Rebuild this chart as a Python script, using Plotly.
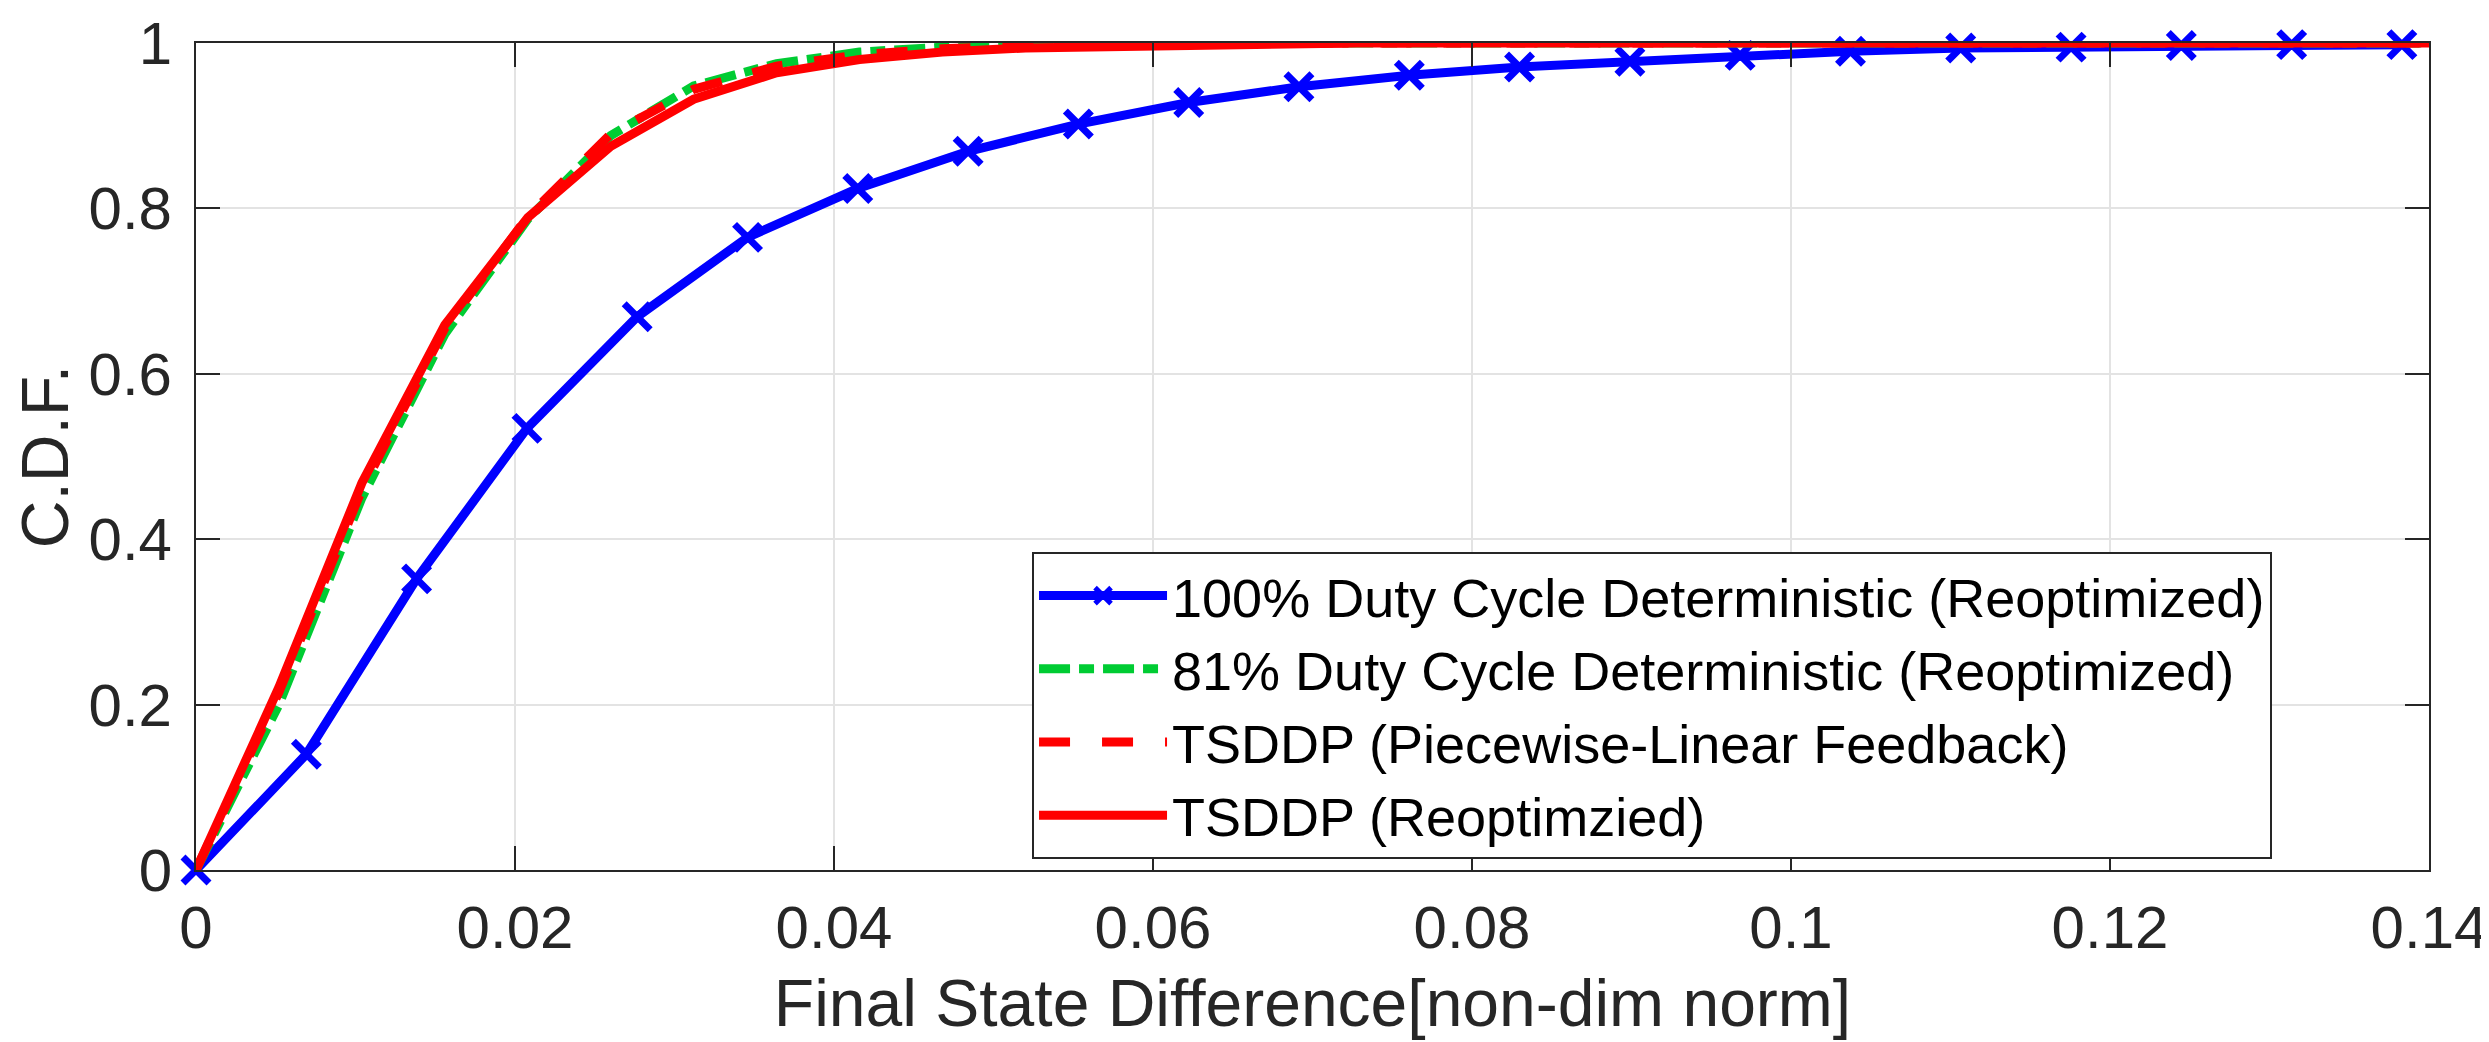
import plotly.graph_objects as go

# ---------------- data ----------------
x_blue = [0, 0.00692, 0.01383, 0.02075, 0.02766, 0.03458, 0.04149, 0.04841, 0.05532,
          0.06224, 0.06915, 0.07607, 0.08298, 0.0899, 0.09681, 0.10373, 0.11064,
          0.11756, 0.12447, 0.13139, 0.1383]
y_blue = [0, 0.14, 0.352, 0.534, 0.669, 0.765, 0.824, 0.869, 0.902, 0.928, 0.947,
          0.961, 0.971, 0.978, 0.985, 0.990, 0.994, 0.995, 0.997, 0.998, 0.998]

x_tsddp = [0, 0.0052, 0.0104, 0.0156, 0.0208, 0.026, 0.0312, 0.0364, 0.0416, 0.0468,
           0.052, 0.0572, 0.0624, 0.0676, 0.0728, 0.08, 0.09, 0.1, 0.11, 0.12, 0.13, 0.14]
y_green = [0, 0.200, 0.450, 0.648, 0.787, 0.888, 0.948, 0.975, 0.989, 0.995,
           0.998, 0.999, 1.0, 1.0, 1.0, 1.0, 1.0, 1.0, 1.0, 1.0, 1.0, 1.0]
y_red_dash = [0, 0.215, 0.460, 0.655, 0.790, 0.890, 0.944, 0.972, 0.986, 0.993,
              0.997, 0.999, 1.0, 1.0, 1.0, 1.0, 1.0, 1.0, 1.0, 1.0, 1.0, 1.0]
y_red = [0, 0.221, 0.468, 0.659, 0.789, 0.875, 0.932, 0.964, 0.980, 0.989,
         0.994, 0.996, 0.998, 0.999, 1.0, 1.0, 1.0, 1.0, 1.0, 1.0, 1.0, 1.0]

names = ["100% Duty Cycle Deterministic (Reoptimized)",
         "81% Duty Cycle Deterministic (Reoptimized)",
         "TSDDP (Piecewise-Linear Feedback)",
         "TSDDP (Reoptimzied)"]

x_ticks = [0, 0.02, 0.04, 0.06, 0.08, 0.1, 0.12, 0.14]
x_ticklabels = ["0", "0.02", "0.04", "0.06", "0.08", "0.1", "0.12", "0.14"]
y_ticks = [0, 0.2, 0.4, 0.6, 0.8, 1]
y_ticklabels = ["0", "0.2", "0.4", "0.6", "0.8", "1"]

FONT = "Liberation Sans, Arial, Helvetica, sans-serif"
AX = "#262626"

fig = go.Figure()
fig.add_trace(go.Scatter(
    x=x_blue, y=y_blue, name=names[0], mode="lines+markers",
    line=dict(color="#0000FF", width=9),
    marker=dict(symbol="x-thin", size=26, color="#0000FF",
                line=dict(color="#0000FF", width=7)),
    cliponaxis=False))
fig.add_trace(go.Scatter(
    x=x_tsddp, y=y_green, name=names[1], mode="lines",
    line=dict(color="#00CC33", width=9, dash="31px,9px,15px,9px"),
    cliponaxis=False))
fig.add_trace(go.Scatter(
    x=x_tsddp, y=y_red_dash, name=names[2], mode="lines",
    line=dict(color="#FF0000", width=9, dash="31px,32px"),
    cliponaxis=False))
fig.add_trace(go.Scatter(
    x=x_tsddp, y=y_red, name=names[3], mode="lines",
    line=dict(color="#FF0000", width=9),
    cliponaxis=False))

fig.update_layout(
    width=2489, height=1042,
    margin=dict(l=188, r=68, t=35, b=180, autoexpand=False),
    paper_bgcolor="white", plot_bgcolor="white",
    font=dict(family=FONT, color=AX, size=60),
    showlegend=True,
    legend=dict(
        x=0.3744, y=0.3845, xanchor="left", yanchor="top",
        bgcolor="white", bordercolor=AX, borderwidth=2,
        font=dict(family=FONT, size=54, color="black"),
        itemwidth=128, tracegroupgap=0,
    ),
)
fig.update_xaxes(
    range=[0, 0.14], tickvals=x_ticks, ticktext=x_ticklabels, automargin=False,
    showline=True, linecolor=AX, linewidth=2, mirror="ticks",
    ticks="inside", ticklen=24, tickwidth=2, tickcolor=AX,
    showgrid=True, gridcolor="#E3E3E3", gridwidth=2, zeroline=False,
    tickfont=dict(size=60, family=FONT, color=AX),
    ticklabelstandoff=4, ticklabeloverflow="allow",
    title=dict(text="Final State Difference[non-dim norm]",
               font=dict(size=66, family=FONT, color=AX), standoff=20),
)
fig.update_yaxes(
    range=[0, 1], tickvals=y_ticks, ticktext=y_ticklabels, automargin=False,
    showline=True, linecolor=AX, linewidth=2, mirror="ticks",
    ticks="inside", ticklen=24, tickwidth=2, tickcolor=AX,
    showgrid=True, gridcolor="#E3E3E3", gridwidth=2, zeroline=False,
    tickfont=dict(size=60, family=FONT, color=AX),
    ticklabelstandoff=10, ticklabeloverflow="allow",
    title=dict(text="C.D.F.", font=dict(size=66, family=FONT, color=AX), standoff=20),
)

fig.write_html("out.html")
